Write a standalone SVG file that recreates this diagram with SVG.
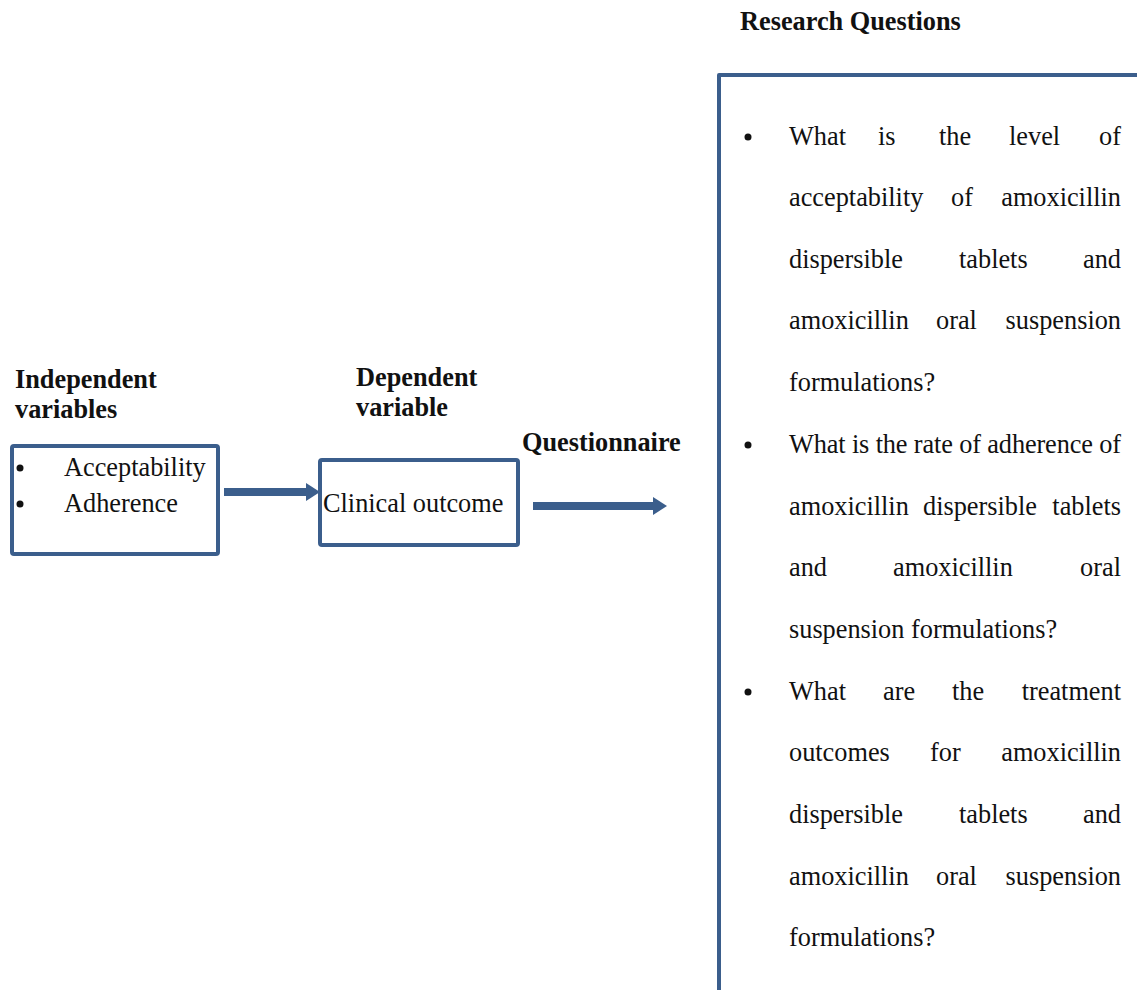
<svg xmlns="http://www.w3.org/2000/svg" width="1137" height="990" viewBox="0 0 1137 990">
<style>
.t{font-family:"Liberation Serif","Times New Roman",serif;font-size:26.3px;fill:#111}
.b{font-weight:bold}
.box{fill:none;stroke:#3B5E8C;stroke-width:4;stroke-linejoin:round}
.dot{fill:#111}
.conn{stroke:#3B5E8C;stroke-width:8;fill:none}
.head{fill:#3B5E8C}
.e{text-anchor:end}
</style>
<rect width="1137" height="990" fill="#fff"/>
<g id="labels">
<text class="t b" x="740" y="30">Research Questions</text>
<text class="t b" x="15" y="388">Independent</text>
<text class="t b" x="15" y="418">variables</text>
<text class="t b" x="356" y="386">Dependent</text>
<text class="t b" x="356" y="416">variable</text>
<text class="t b" x="522" y="451">Questionnaire</text>
</g>
<g id="independent">
<rect class="box" x="12" y="446" width="206" height="108" rx="2"/>
<circle class="dot" cx="20" cy="468" r="3.5"/>
<circle class="dot" cx="20" cy="504" r="3.5"/>
<text class="t" x="64" y="476">Acceptability</text>
<text class="t" x="64" y="512">Adherence</text>
</g>
<g id="dependent">
<rect class="box" x="320" y="460" width="198" height="85" rx="2"/>
<text class="t" x="323" y="512">Clinical outcome</text>
</g>
<g id="connectors">
<line class="conn" x1="224" y1="492" x2="308" y2="492"/>
<polygon class="head" points="306,483 320,492 306,501"/>
<line class="conn" x1="533" y1="506" x2="655" y2="506"/>
<polygon class="head" points="653,497 667,506 653,515"/>
</g>
<g id="research">
<path class="box" d="M719,992 L719,75 L1140,75"/>
<circle class="dot" cx="748" cy="137" r="3.5"/>
<circle class="dot" cx="748" cy="445" r="3.5"/>
<circle class="dot" cx="748" cy="692" r="3.5"/>
<g class="t">
<text x="789" y="145">What</text><text x="878" y="145">is</text><text x="939" y="145">the</text><text x="1009" y="145">level</text><text class="e" x="1121" y="145">of</text>
<text x="789" y="206">acceptability</text><text x="951" y="206">of</text><text class="e" x="1121" y="206">amoxicillin</text>
<text x="789" y="268">dispersible</text><text x="959" y="268">tablets</text><text class="e" x="1121" y="268">and</text>
<text x="789" y="329">amoxicillin</text><text x="936" y="329">oral</text><text class="e" x="1121" y="329">suspension</text>
<text x="789" y="391">formulations?</text>
<text x="789" y="453" textLength="332" lengthAdjust="spacing">What is the rate of adherence of</text>
<text x="789" y="515">amoxicillin</text><text x="923" y="515">dispersible</text><text class="e" x="1121" y="515">tablets</text>
<text x="789" y="576">and</text><text x="893" y="576">amoxicillin</text><text class="e" x="1121" y="576">oral</text>
<text x="789" y="638">suspension formulations?</text>
<text x="789" y="700">What</text><text x="883" y="700">are</text><text x="952" y="700">the</text><text class="e" x="1121" y="700">treatment</text>
<text x="789" y="761">outcomes</text><text x="930" y="761">for</text><text class="e" x="1121" y="761">amoxicillin</text>
<text x="789" y="823">dispersible</text><text x="959" y="823">tablets</text><text class="e" x="1121" y="823">and</text>
<text x="789" y="885">amoxicillin</text><text x="936" y="885">oral</text><text class="e" x="1121" y="885">suspension</text>
<text x="789" y="946">formulations?</text>
</g>
</g>
</svg>
